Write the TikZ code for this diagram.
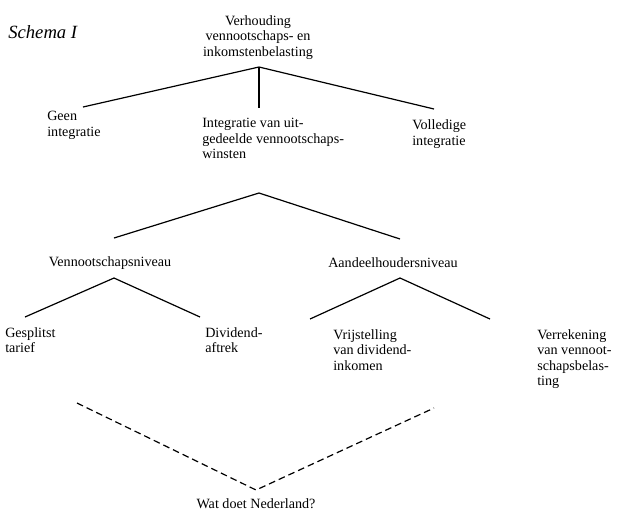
\documentclass[tikz,border=0pt]{standalone}
\usepackage{fontspec}
\setmainfont{Liberation Serif}
\begin{document}
\begin{tikzpicture}[x=0.75pt,y=-0.75pt,
  lbl/.style={inner sep=0pt,align=left,anchor=base west,font=\fontsize{10.6}{11.6}\selectfont},
  clbl/.style={inner sep=0pt,align=center,anchor=base,font=\fontsize{10.6}{11.6}\selectfont},
  branch/.style={line width=0.9pt},
  dline/.style={line width=0.9pt,dash pattern=on 5pt off 3pt}]
\useasboundingbox (0,0) rectangle (623,512);
% title
\node[inner sep=0pt,anchor=base west,font=\fontsize{14}{16}\selectfont\itshape] (title) at (8,38) {Schema I};
% top (anchor = baseline of last line)
\node[clbl] (top) at (258,56) {Verhouding\\vennootschaps- en\\inkomstenbelasting};
\coordinate (a1) at (259,67);
\coordinate (geenend) at (83,107);
\coordinate (intend) at (259,108);
\coordinate (volend) at (434,109);
\draw[branch] (geenend) -- (a1) -- (volend);
\draw[branch] (a1) -- (intend);
\node[lbl] (geen) at (47,136) {Geen\\integratie};
\node[lbl] (int) at (202,158.5) {Integratie van uit-\\gedeelde vennootschaps-\\winsten};
\node[lbl] (vol) at (412,145) {Volledige\\integratie};
% second
\coordinate (a2) at (259,193);
\coordinate (vnend) at (114,238);
\coordinate (ahend) at (400,239);
\draw[branch] (vnend) -- (a2) -- (ahend);
\node[clbl] (vn) at (110,266) {Vennootschapsniveau};
\node[clbl] (ah) at (393,267) {Aandeelhoudersniveau};
% third left
\coordinate (a3) at (114,278);
\coordinate (gsend) at (25,317);
\coordinate (dvend) at (200,317);
\draw[branch] (gsend) -- (a3) -- (dvend);
% third right
\coordinate (a4) at (400,278);
\coordinate (vrend) at (310,319);
\coordinate (veend) at (490,319);
\draw[branch] (vrend) -- (a4) -- (veend);
\node[lbl] (gs) at (5,352.5) {Gesplitst\\tarief};
\node[lbl] (dv) at (205,352.5) {Dividend-\\aftrek};
\node[lbl] (vr) at (333,370) {Vrijstelling\\van dividend-\\inkomen};
\node[lbl] (ve) at (537,385.5) {Verrekening\\van vennoot-\\schapsbelas-\\ting};
% dashed
\coordinate (dl) at (77,403);
\coordinate (dr) at (434,408);
\node[clbl] (nl) at (256,508) {Wat doet Nederland?};
\coordinate (da) at (256,490);
\draw[dline] (dl) -- (da) -- (dr);
\end{tikzpicture}
\end{document}
